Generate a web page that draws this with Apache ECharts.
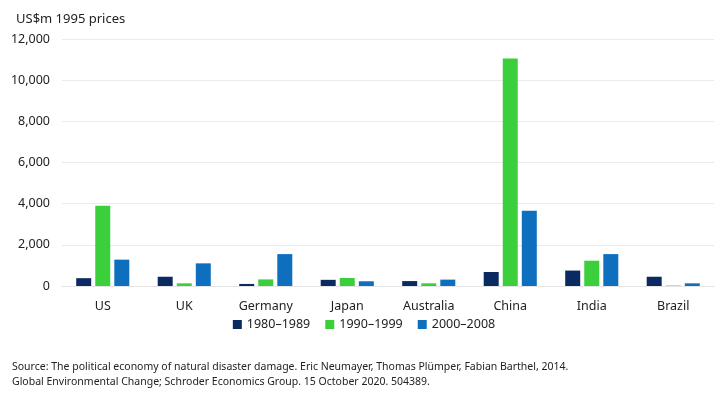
<!DOCTYPE html>
<html><head><meta charset="utf-8">
<script src="https://cdn.jsdelivr.net/npm/echarts@6/dist/echarts.min.js"></script>
<style>html,body{margin:0;padding:0;background:#fff;}#c{width:728px;height:395px;}</style>
</head><body><div id="c"></div>
<script>
const categories = ['US','UK','Germany','Japan','Australia','China','India','Brazil'];
const s1980 = [380, 450, 100, 300, 240, 680, 750, 450];
const s1990 = [3900, 130, 320, 390, 130, 11050, 1230, 20];
const s2000 = [1280, 1100, 1550, 230, 310, 3650, 1550, 130];
const yTicks = [0, 2000, 4000, 6000, 8000, 10000, 12000];
const seriesNames = ['1980–1989','1990–1999','2000–2008'];
const colors = ['#0c2a62','#3ccf3c','#0f6fbf'];
const font = '"Noto Sans", "Open Sans", sans-serif';
const chart = echarts.init(document.getElementById('c'));
const data = [s1980, s1990, s2000];
chart.setOption({
  animation: false,
  textStyle: {fontFamily: font},
  title: {text: 'US$m 1995 prices', left: 11, top: 8, textStyle: {fontFamily: font, fontSize: 13, fontWeight: 'normal', color: '#222'}},
  graphic: [{type: 'text', left: 12, top: 360, style: {text: 'Source: The political economy of natural disaster damage. Eric Neumayer, Thomas Plümper, Fabian Barthel, 2014.\nGlobal Environmental Change; Schroder Economics Group. 15 October 2020. 504389.', font: '10.5px ' + font, fill: '#222', lineHeight: 14.5}}],
  legend: {bottom: 59, left: 'center', itemWidth: 9, itemHeight: 9, itemGap: 15, icon: 'rect', textStyle: {fontFamily: font, fontSize: 12.5, color: '#222'}, data: seriesNames},
  grid: {left: 62, right: 14, top: 39, bottom: 109, containLabel: false},
  xAxis: {type: 'category', data: categories, axisTick: {show: false}, axisLine: {show: true, lineStyle: {color: '#e4e4e4'}}, axisLabel: {fontSize: 12.5, color: '#222', margin: 14, fontFamily: font}},
  yAxis: {type: 'value', min: yTicks[0], max: yTicks[yTicks.length-1], interval: 2000, splitLine: {lineStyle: {color: '#ebebeb'}}, axisLine: {show: false}, axisTick: {show: false}, axisLabel: {fontSize: 12.5, color: '#222', margin: 12, fontFamily: font, formatter: v => v.toLocaleString('en-US')}},
  series: seriesNames.map((n, i) => ({name: n, type: 'bar', data: data[i], barWidth: 15, barGap: '27%', itemStyle: {color: colors[i]}}))
});
</script></body></html>
